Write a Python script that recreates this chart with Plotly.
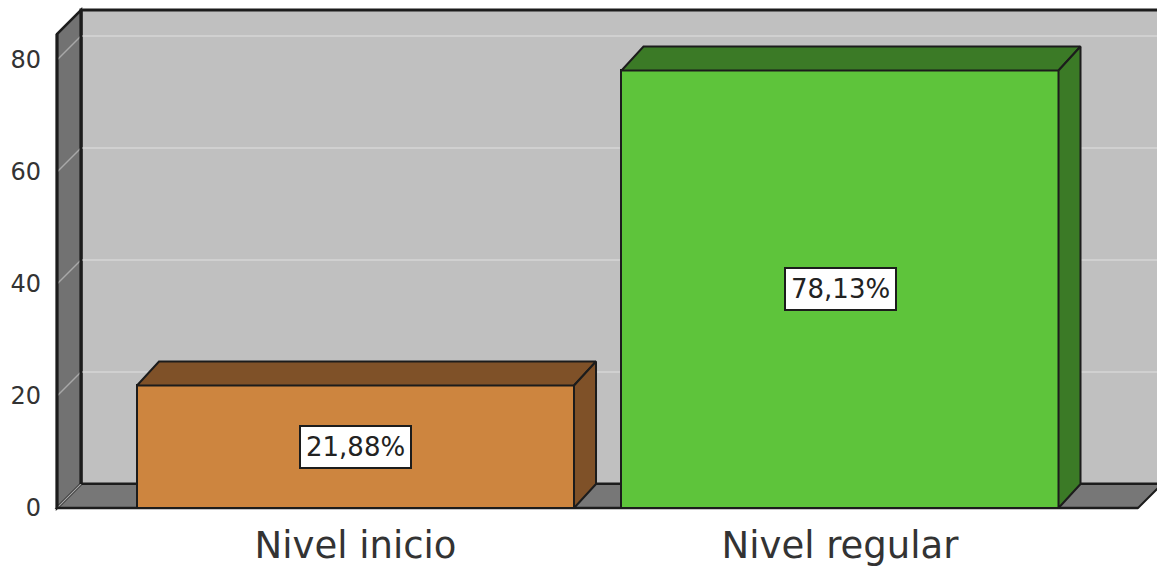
import plotly.graph_objects as go

# Data
categories = ["Nivel inicio", "Nivel regular"]
percentages = [21.88, 78.13]
value_labels = ["21,88%", "78,13%"]
y_ticks = [0, 20, 40, 60, 80]

# Styling
front_colors = ["#cd853f", "#5ec43b"]
shade_colors = ["#7f5128", "#3b7a26"]
edge = "#1c1c1c"
FONT = "DejaVu Sans"

# 3D geometry (in axis units)
BAR_W = 0.902
BAR_DX = 22 / 484.5      # depth offset of bars along x
WALL_DX = 24 / 484.5     # depth offset of walls along x
DY = 24 / 5.6            # depth offset along y
WALL_LEFT = -0.6161
FLOOR_RIGHT = 1.6151
WALL_TOP = 84.64
FAR_RIGHT = 1.80

xs = list(range(len(categories)))

fig = go.Figure()

shapes = []
# back wall
shapes.append(dict(type="rect", xref="x", yref="y", layer="below",
                   x0=WALL_LEFT + WALL_DX, x1=FAR_RIGHT, y0=DY, y1=WALL_TOP + DY,
                   fillcolor="#c0c0c0", line=dict(color=edge, width=3)))
# floor
shapes.append(dict(type="path", xref="x", yref="y", layer="below",
                   path=f"M {WALL_LEFT},0 L {WALL_LEFT + WALL_DX},{DY} L {FLOOR_RIGHT + WALL_DX},{DY} "
                        f"L {FLOOR_RIGHT},0 Z",
                   fillcolor="#777777", line=dict(color=edge, width=2)))
# left wall
shapes.append(dict(type="path", xref="x", yref="y", layer="below",
                   path=f"M {WALL_LEFT},0 L {WALL_LEFT},{WALL_TOP} L {WALL_LEFT + WALL_DX},{WALL_TOP + DY} "
                        f"L {WALL_LEFT + WALL_DX},{DY} Z",
                   fillcolor="#727272", line=dict(color=edge, width=2.5)))
# gridlines on back wall and left wall
for t in y_ticks[1:]:
    shapes.append(dict(type="line", xref="x", yref="y", layer="below",
                       x0=WALL_LEFT + WALL_DX, x1=FAR_RIGHT, y0=t + DY, y1=t + DY,
                       line=dict(color="#d0d0d0", width=1.8)))
    shapes.append(dict(type="line", xref="x", yref="y", layer="below",
                       x0=WALL_LEFT, x1=WALL_LEFT + WALL_DX, y0=t, y1=t + DY,
                       line=dict(color="#a8a8a8", width=1.5)))
# corner between left wall and floor
shapes.append(dict(type="line", xref="x", yref="y", layer="below",
                   x0=WALL_LEFT, x1=WALL_LEFT + WALL_DX, y0=0, y1=DY,
                   line=dict(color="#a8a8a8", width=1.2)))
# re-draw front edges of frame
shapes.append(dict(type="line", xref="x", yref="y", layer="below",
                   x0=WALL_LEFT, x1=FLOOR_RIGHT, y0=0, y1=0,
                   line=dict(color=edge, width=2.5)))
shapes.append(dict(type="line", xref="x", yref="y", layer="below",
                   x0=WALL_LEFT, x1=WALL_LEFT, y0=0, y1=WALL_TOP,
                   line=dict(color=edge, width=3)))
shapes.append(dict(type="line", xref="x", yref="y", layer="below",
                   x0=WALL_LEFT + WALL_DX, x1=WALL_LEFT + WALL_DX, y0=DY, y1=WALL_TOP + DY,
                   line=dict(color=edge, width=3)))

# front faces of bars
fig.add_trace(go.Bar(
    x=xs, y=percentages, width=BAR_W,
    marker=dict(color=front_colors, line=dict(color=edge, width=2)),
    hoverinfo="skip", showlegend=False,
))

# top and side faces of bars
for x, v, c in zip(xs, percentages, shade_colors):
    l, r = x - BAR_W / 2, x + BAR_W / 2
    fig.add_trace(go.Scatter(
        x=[l, l + BAR_DX, r + BAR_DX, r, l], y=[v, v + DY, v + DY, v, v],
        mode="lines", fill="toself", fillcolor=c,
        line=dict(color=edge, width=2), hoverinfo="skip", showlegend=False))
    fig.add_trace(go.Scatter(
        x=[r, r + BAR_DX, r + BAR_DX, r, r], y=[v, v + DY, DY, 0, v],
        mode="lines", fill="toself", fillcolor=c,
        line=dict(color=edge, width=2), hoverinfo="skip", showlegend=False))

annotations = []
for x, v, lab in zip(xs, percentages, value_labels):
    annotations.append(dict(
        x=x, y=v / 2, xref="x", yref="y", text=lab, showarrow=False,
        font=dict(family=FONT, size=26, color="#222222"),
        bgcolor="white", bordercolor=edge, borderwidth=2, borderpad=5))

fig.update_layout(
    width=1157, height=568,
    margin=dict(l=50, r=0, t=0, b=56),
    paper_bgcolor="white", plot_bgcolor="white",
    shapes=shapes, annotations=annotations,
    xaxis=dict(range=[-0.63055, 1.65428], tickvals=xs, ticktext=categories,
               showgrid=False, zeroline=False, showline=False, ticks="",
               tickfont=dict(family=FONT, size=37, color="#333333"),
               ticklabelstandoff=8, fixedrange=True),
    yaxis=dict(range=[-4 / 5.6, 508 / 5.6], tickvals=y_ticks,
               showgrid=False, zeroline=False, showline=False, ticks="",
               tickfont=dict(family=FONT, size=24, color="#333333"),
               ticklabelstandoff=8, fixedrange=True),
    bargap=0,
)

fig.write_html("out.html")
